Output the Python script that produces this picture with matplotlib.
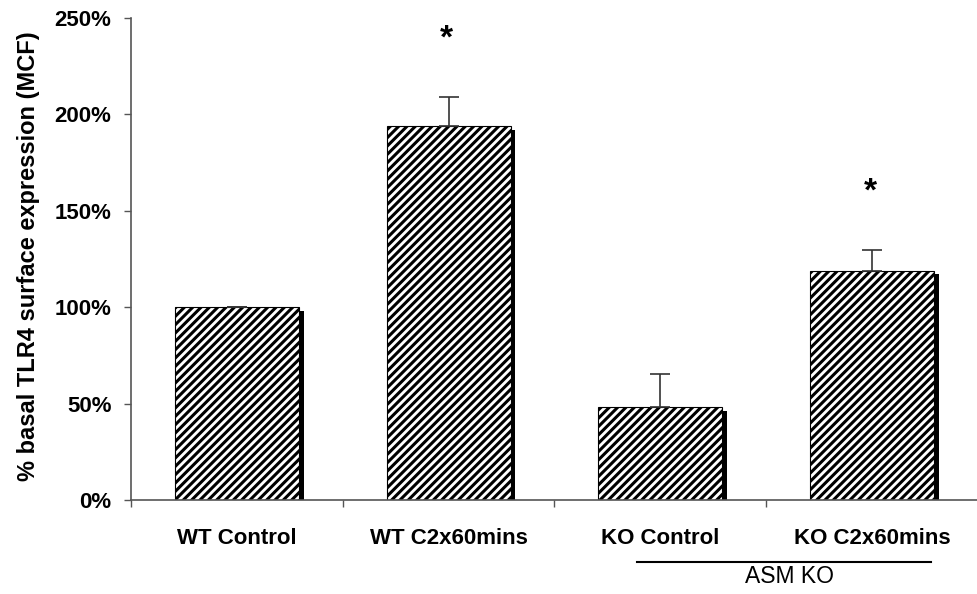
import matplotlib.pyplot as plt
import numpy as np

# data
groups = ['WT Control', 'WT C2x60mins', 'KO Control', 'KO C2x60mins']
values = [100, 194, 48, 119]
errors = [0, 15, 17.5, 10.5]
signif = [False, True, False, True]
yticks = [0, 50, 100, 150, 200, 250]

plt.rcParams['font.family'] = ['Liberation Sans', 'DejaVu Sans']
plt.rcParams['hatch.linewidth'] = 2.2

fig = plt.figure(figsize=(9.78, 5.94), dpi=100)
ax = fig.add_axes([131 / 978, 94 / 594, 847 / 978, 482 / 594])

x = np.arange(len(groups)) + 0.5
w = 0.585

# shadow behind each bar
ax.bar(x + 0.023, np.array(values) - 2, width=w, color='black', zorder=1)
ax.bar(x, values, width=w, color='white', edgecolor='black', hatch='////',
       linewidth=0.8, zorder=2)

# upper error bars only
lower = np.zeros(len(errors))
ax.errorbar(x, values, yerr=[lower, errors], fmt='none', ecolor='#333333',
            elinewidth=1.2, capsize=7, capthick=1.2, zorder=3)

for xi, v, e, s in zip(x, values, errors, signif):
    if s:
        ax.text(xi - 0.01, v + e + 30, '*', ha='center', va='center',
                fontsize=24, fontweight='bold')

ax.set_xlim(0, 847 / 213.3)
ax.set_ylim(0, 250)
ax.set_yticks(yticks)
ax.set_yticklabels(['%d%%' % t for t in yticks], fontsize=16, fontweight='bold')
ax.set_xticks(x)
ax.set_xticklabels(groups, fontsize=16, fontweight='bold')
ax.set_xticks(np.arange(len(groups) + 1), minor=True)
ax.tick_params(axis='x', which='major', length=0, pad=20)
ax.tick_params(axis='x', which='minor', length=5, width=1, color='#555555')
ax.tick_params(axis='y', length=5, width=1, color='#555555', pad=9)

for side in ['top', 'right']:
    ax.spines[side].set_visible(False)
for side in ['left', 'bottom']:
    ax.spines[side].set_color('#555555')
    ax.spines[side].set_linewidth(1.2)

ax.set_ylabel('% basal TLR4 surface expression (MCF)', fontsize=17,
              fontweight='bold')
ax.yaxis.set_label_coords(-0.108, 0.505)

# group bracket under the knockout bars
trans = ax.get_xaxis_transform()
ax.plot([2.39, 3.78], [-0.128, -0.128], color='black', lw=1.5,
        transform=trans, clip_on=False)
ax.text(3.11, -0.158, 'ASM KO', ha='center', va='center', fontsize=16.5,
        transform=trans)

fig.savefig('out.png', dpi=100)
